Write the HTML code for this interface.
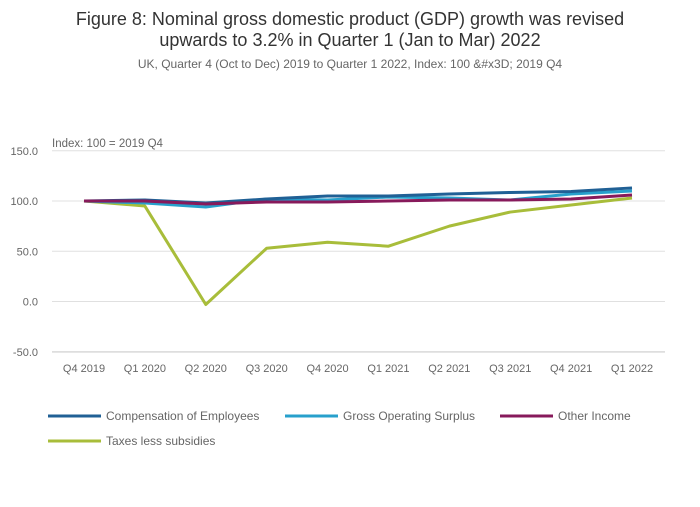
<!DOCTYPE html>
<html><head><meta charset="utf-8"><style>
body{margin:0;background:#fff;font-family:"Liberation Sans",sans-serif;}
</style></head><body>
<svg width="700" height="502" xmlns="http://www.w3.org/2000/svg" font-family="Liberation Sans, sans-serif">
<text x="350" y="25" text-anchor="middle" font-size="18" fill="#333">Figure 8: Nominal gross domestic product (GDP) growth was revised</text>
<text x="350" y="46" text-anchor="middle" font-size="18" fill="#333">upwards to 3.2% in Quarter 1 (Jan to Mar) 2022</text>
<text x="350" y="68" text-anchor="middle" font-size="12" fill="#666">UK, Quarter 4 (Oct to Dec) 2019 to Quarter 1 2022, Index: 100 &amp;#x3D; 2019 Q4</text>
<text x="52" y="147" font-size="11.5" fill="#666">Index: 100 = 2019 Q4</text>
<g id="grid"></g><g id="lines"></g><g id="legend"></g>
</svg>
<script>
const categories=["Q4 2019","Q1 2020","Q2 2020","Q3 2020","Q4 2020","Q1 2021","Q2 2021","Q3 2021","Q4 2021","Q1 2022"];
const compensation=[100,101,98,102,105,105,107,108.5,109.5,113];
const gos=[100,98,94,102,101,104,103,101,107,110];
const other=[100,100,97,99,99,100,101,101,102,106];
const taxes=[100,95,-3,53,59,55,75,89,96,103];
const yTicks=[150,100,50,0,-50];
const seriesNames=["Compensation of Employees","Gross Operating Surplus","Other Income","Taxes less subsidies"];
const NS="http://www.w3.org/2000/svg";
const x0=84,x1=632,left=52,right=665;
const xs=i=>x0+i*(x1-x0)/(categories.length-1);
const ys=v=>201-(v-100)*1.005;
const grid=document.getElementById('grid');
function mk(t,a,p){const e=document.createElementNS(NS,t);for(const k in a)e.setAttribute(k,a[k]);p.appendChild(e);return e;}
yTicks.forEach(v=>{
 const l=mk('line',{x1:left,x2:right,y1:ys(v),y2:ys(v),stroke:'#e0e0e0'},grid);
 
 
 const t=mk('text',{x:38,y:ys(v)+4,'text-anchor':'end','font-size':'11',fill:'#666'},grid);
 t.textContent=v.toFixed(1);
 
 
});
const ax=mk('line',{x1:left,x2:right,y1:352,y2:352,stroke:'#ccc'},grid);
categories.forEach((c,i)=>{
 const t=mk('text',{x:xs(i),y:372,'text-anchor':'middle','font-size':'11',fill:'#666'},grid);
 t.textContent=c;
 
 
});
const colors=["#206095","#27a0cc","#871a5b","#a8bd3a"];
const data=[compensation,gos,other,taxes];
const lg=document.getElementById('lines');
[3,1,0,2].forEach(k=>{
 const p=mk('polyline',{points:data[k].map((v,i)=>xs(i)+','+ys(v)).join(' '),fill:'none',stroke:colors[k],'stroke-width':3,'stroke-linejoin':'round'},lg);
 
 
});
const leg=document.getElementById('legend');
const pos=[[48,416],[285,416],[500,416],[48,441]];
seriesNames.forEach((n,k)=>{
 const [x,y]=pos[k];
 mk('line',{x1:x,x2:x+53,y1:y,y2:y,stroke:colors[k],'stroke-width':3},leg);
 const t=mk('text',{x:x+58,y:y+4,'font-size':'12',fill:'#666'},leg);
 t.textContent=n;
 
 
});
</script>
</body></html>
